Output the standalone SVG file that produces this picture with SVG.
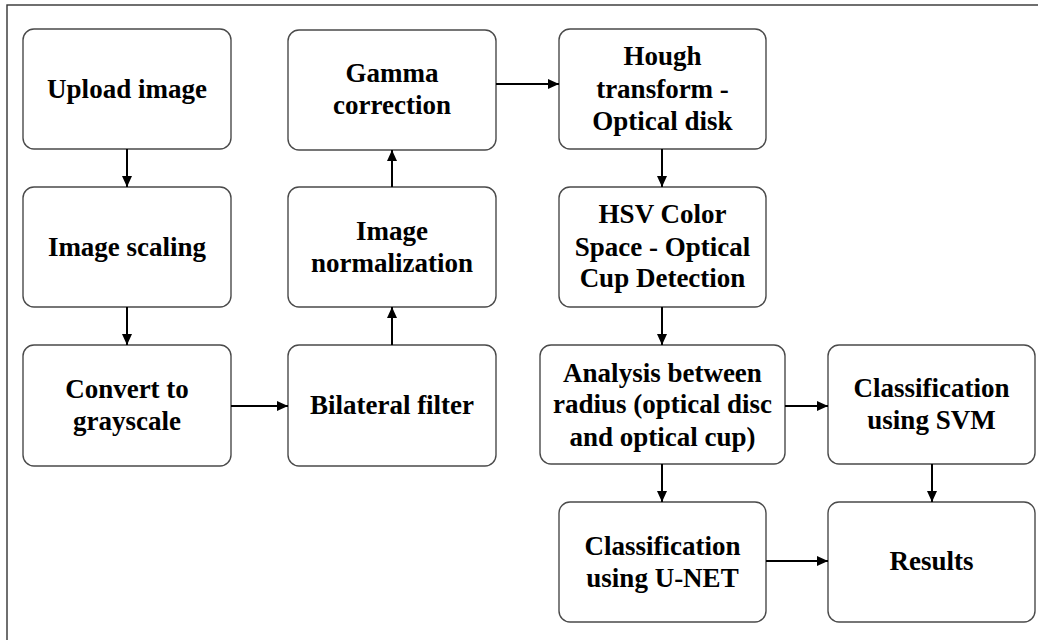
<svg xmlns="http://www.w3.org/2000/svg" width="1038" height="640" viewBox="0 0 1038 640">
<defs>
<marker id="ah" markerUnits="userSpaceOnUse" markerWidth="12" markerHeight="10" refX="11" refY="5" orient="auto">
<path d="M0,0 L11,5 L0,10 Z" fill="#000"/>
</marker>
<style>
.box{fill:#fff;stroke:#4a4a4a;stroke-width:1.4}
.t{font-family:"Liberation Serif","Times New Roman",serif;font-weight:bold;font-size:27px;fill:#000;text-anchor:middle}
.c{stroke:#000;stroke-width:2;fill:none;marker-end:url(#ah)}
</style>
</defs>
<rect x="0" y="0" width="1038" height="640" fill="#fff"/>
<rect x="7" y="5" width="1045" height="650" fill="none" stroke="#333" stroke-width="1.4"/>
<g id="upload"><rect class="box" x="23" y="29" width="208" height="120" rx="11"/><text class="t" x="127" y="98">Upload image</text></g>
<g id="scaling"><rect class="box" x="23" y="187" width="208" height="120" rx="11"/><text class="t" x="127" y="256">Image scaling</text></g>
<g id="grayscale"><rect class="box" x="23" y="345" width="208" height="121" rx="11"/><text class="t" x="127" y="398">Convert to</text><text class="t" x="127" y="430">grayscale</text></g>
<g id="bilateral"><rect class="box" x="288" y="345" width="208" height="121" rx="11"/><text class="t" x="392" y="414">Bilateral filter</text></g>
<g id="normalization"><rect class="box" x="288" y="187" width="208" height="120" rx="11"/><text class="t" x="392" y="240">Image</text><text class="t" x="392" y="272">normalization</text></g>
<g id="gamma"><rect class="box" x="288" y="30" width="208" height="120" rx="11"/><text class="t" x="392" y="82">Gamma</text><text class="t" x="392" y="114">correction</text></g>
<g id="hough"><rect class="box" x="559" y="29" width="207" height="120" rx="11"/><text class="t" x="662.5" y="65">Hough</text><text class="t" x="662.5" y="98">transform -</text><text class="t" x="662.5" y="130">Optical disk</text></g>
<g id="hsv"><rect class="box" x="559" y="187" width="207" height="120" rx="11"/><text class="t" x="662.5" y="223">HSV Color</text><text class="t" x="662.5" y="256">Space - Optical</text><text class="t" x="662.5" y="287">Cup Detection</text></g>
<g id="analysis"><rect class="box" x="540" y="345" width="245" height="119" rx="11"/><text class="t" x="662.5" y="382">Analysis between</text><text class="t" x="662.5" y="413">radius (optical disc</text><text class="t" x="662.5" y="446">and optical cup)</text></g>
<g id="svm"><rect class="box" x="828" y="345" width="207" height="119" rx="11"/><text class="t" x="931.5" y="397">Classification</text><text class="t" x="931.5" y="429">using SVM</text></g>
<g id="unet"><rect class="box" x="559" y="502" width="207" height="120" rx="11"/><text class="t" x="662.5" y="555">Classification</text><text class="t" x="662.5" y="587">using U-NET</text></g>
<g id="results"><rect class="box" x="828" y="502" width="207" height="120" rx="11"/><text class="t" x="931.5" y="570">Results</text></g>
<g id="connectors">
<line class="c" x1="127" y1="149" x2="127" y2="187"/>
<line class="c" x1="127" y1="307" x2="127" y2="345"/>
<line class="c" x1="231" y1="406" x2="288" y2="406"/>
<line class="c" x1="392" y1="345" x2="392" y2="307"/>
<line class="c" x1="392" y1="187" x2="392" y2="150"/>
<line class="c" x1="496" y1="84" x2="559" y2="84"/>
<line class="c" x1="662" y1="149" x2="662" y2="187"/>
<line class="c" x1="662" y1="307" x2="662" y2="345"/>
<line class="c" x1="785" y1="406" x2="828" y2="406"/>
<line class="c" x1="662" y1="464" x2="662" y2="502"/>
<line class="c" x1="932" y1="464" x2="932" y2="502"/>
<line class="c" x1="766" y1="561" x2="828" y2="561"/>
</g>
</svg>
